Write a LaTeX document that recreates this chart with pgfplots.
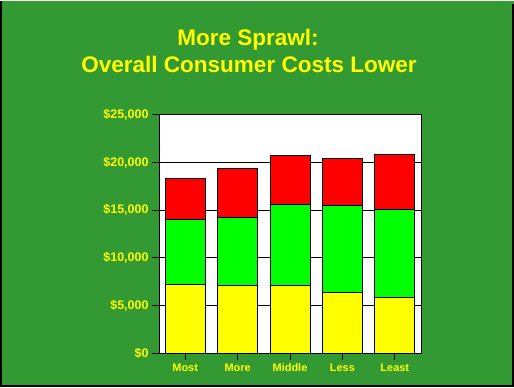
\documentclass[border=0pt]{standalone}
\usepackage{pgfplots}
\pgfplotsset{compat=1.18}
\usepackage{fontspec}
\setmainfont{Liberation Sans}
\definecolor{bggreen}{HTML}{339933}
\definecolor{ylw}{HTML}{FFFF00}
\definecolor{grn}{HTML}{00FF00}
\definecolor{rd}{HTML}{FF0000}
\begin{document}
\begin{tikzpicture}[x=1bp,y=1bp]
\fill[bggreen] (0,0) rectangle (514,386);
\draw[black,line width=2bp] (1,386) -- (1,1) -- (513,1) -- (513,383);
\node[anchor=base,text=ylw,font=\fontsize{22.6}{24}\selectfont\bfseries] at (248,342) {More Sprawl:};
\node[anchor=base,text=ylw,font=\fontsize{22.6}{24}\selectfont\bfseries] at (249,315) {Overall Consumer Costs Lower};
\begin{axis}[
  at={(159bp,34bp)}, anchor=south west,
  scale only axis, width=262bp, height=238bp,
  xmin=-0.5, xmax=4.5, ymin=0, ymax=25000,
  ybar stacked, bar width=40bp,
  axis background/.style={fill=white},
  axis line style={black, line width=1bp},
  ymajorgrids, grid style={black, line width=1bp},
  xtick={0,1,2,3,4},
  xticklabels={Most,More,Middle,Less,Least},
  ytick={0,5000,10000,15000,20000,25000},
  yticklabels={{\$0},{\$5,000},{\$10,000},{\$15,000},{\$20,000},{\$25,000}},
  tick align=outside,
  major tick length=7bp,
  tick style={black, line width=1bp},
  xtick pos=bottom, ytick pos=left,
  xticklabel style={text=ylw, font=\fontsize{11}{12}\selectfont\bfseries},
  yticklabel style={text=ylw, font=\fontsize{12.5}{13}\selectfont\bfseries},
  /pgf/number format/assume math mode=true,
  scaled y ticks=false,
  every axis plot/.append style={draw=black, line width=1bp},
]
\addplot[fill=ylw] coordinates {(0,7240) (1,7130) (2,7060) (3,6330) (4,5840)};
\addplot[fill=grn] coordinates {(0,6820) (1,7100) (2,8530) (3,9160) (4,9230)};
\addplot[fill=rd] coordinates {(0,4300) (1,5180) (2,5180) (3,4960) (4,5800)};
\end{axis}
\end{tikzpicture}
\end{document}
